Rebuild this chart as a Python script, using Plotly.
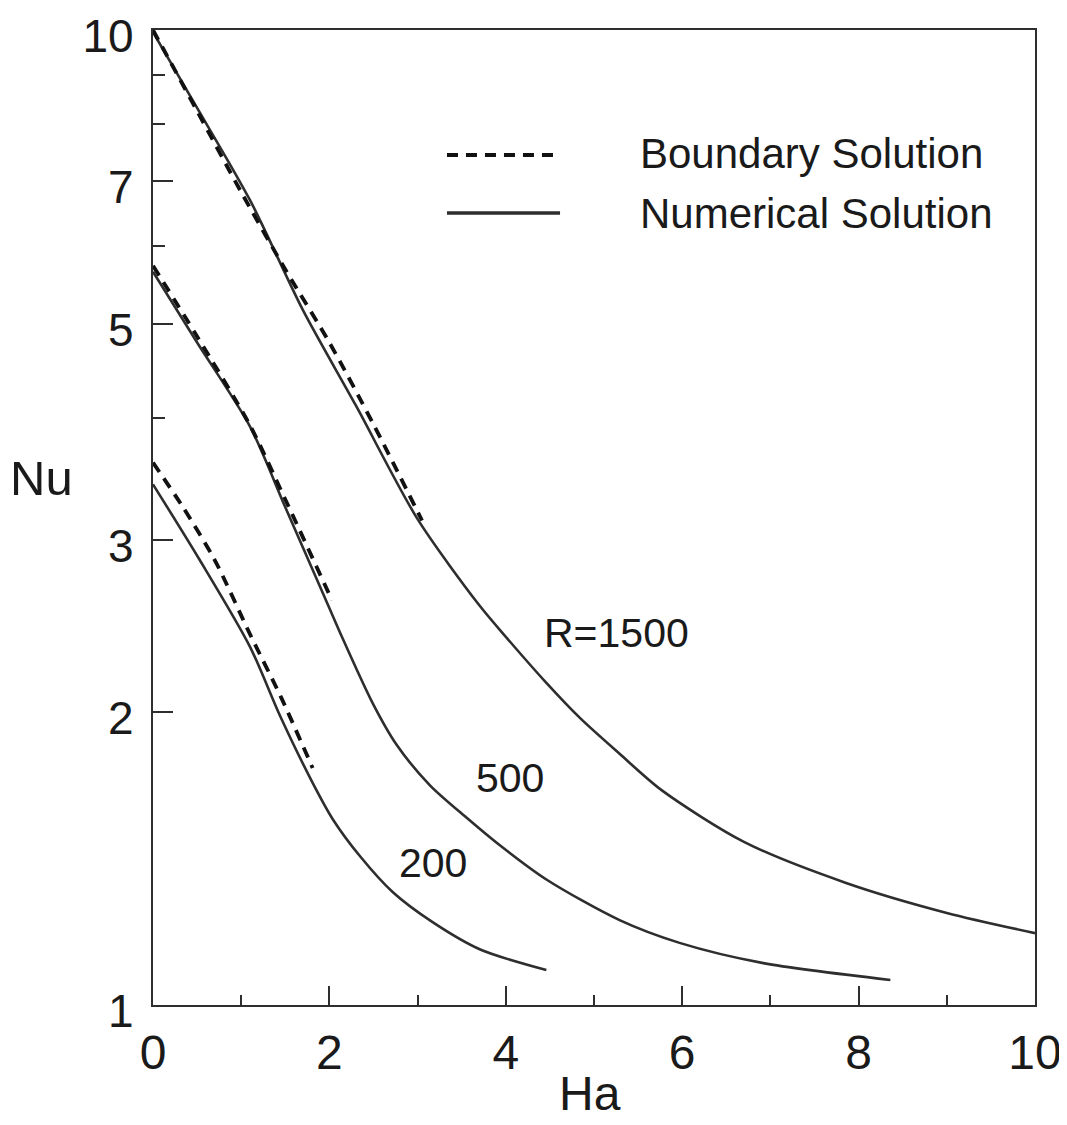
import math
import plotly.graph_objects as go

# ---- data ----
ha_num_1500 = [0.0, 0.5, 1.1, 1.7, 2.3, 3.0, 3.7, 4.01, 4.46, 4.84, 5.29, 5.77, 6.7, 7.85, 9.0, 10.0]
nu_num_1500 = [9.95, 8.32, 6.69, 5.16, 4.12, 3.15, 2.57, 2.38, 2.14, 1.97, 1.81, 1.66, 1.47, 1.335, 1.243, 1.185]

ha_bnd_1500 = [0.0, 0.5, 1.0, 1.5, 2.0, 2.5, 3.05]
nu_bnd_1500 = [10.0, 8.26, 6.82, 5.68, 4.78, 3.94, 3.14]

ha_num_500 = [0.0, 0.5, 1.1, 1.5, 1.93, 2.12, 2.49, 2.76, 3.14, 3.56, 3.9, 4.46, 5.29, 5.97, 6.92, 8.36]
nu_num_500 = [5.65, 4.78, 3.92, 3.24, 2.64, 2.41, 2.04, 1.85, 1.68, 1.555, 1.466, 1.345, 1.222, 1.158, 1.104, 1.061]

ha_bnd_500 = [0.0, 0.5, 1.1, 1.5, 2.03]
nu_bnd_500 = [5.73, 4.85, 3.93, 3.30, 2.60]

ha_num_200 = [0.0, 0.53, 1.1, 1.44, 1.81, 2.04, 2.35, 2.72, 3.17, 3.71, 4.46]
nu_num_200 = [3.42, 2.86, 2.33, 1.98, 1.69, 1.55, 1.42, 1.305, 1.216, 1.14, 1.086]

ha_bnd_200 = [0.0, 0.34, 0.7, 1.1, 1.45, 1.81]
nu_bnd_200 = [3.60, 3.24, 2.86, 2.40, 2.07, 1.75]

curve_labels = ["R=1500", "500", "200"]
label_ha = [5.26, 4.05, 3.17]
label_nu = [2.41, 1.71, 1.40]

x_ticks = [0, 2, 4, 6, 8, 10]
y_ticks = [1, 2, 3, 5, 7, 10]
y_minor = [4, 6, 8, 9]
legend_names = ["Boundary Solution", "Numerical Solution"]

FONT = "Liberation Sans, Arial, Helvetica, sans-serif"
LINE = "#2e2e2e"
TXT = "#1a1a1a"

fig = go.Figure()

num_sets = [(ha_num_1500, nu_num_1500), (ha_num_500, nu_num_500), (ha_num_200, nu_num_200)]
bnd_sets = [(ha_bnd_1500, nu_bnd_1500), (ha_bnd_500, nu_bnd_500), (ha_bnd_200, nu_bnd_200)]

for hx, ny in num_sets:
    fig.add_trace(go.Scatter(x=hx, y=ny, mode="lines", name=legend_names[1],
                             line=dict(color=LINE, width=2.6, shape="spline", smoothing=0.8),
                             showlegend=False))
for hx, ny in bnd_sets:
    fig.add_trace(go.Scatter(x=hx, y=ny, mode="lines", name=legend_names[0],
                             line=dict(color="#111111", width=3.8, dash="11px,8px", shape="spline", smoothing=0.8),
                             showlegend=False))

for t, lx, ly in zip(curve_labels, label_ha, label_nu):
    fig.add_annotation(x=lx, y=math.log10(ly), xref="x", yref="y", text=t, showarrow=False,
                       xanchor="center", yanchor="middle",
                       font=dict(family=FONT, size=41, color=TXT))

# legend (drawn manually to match the long line samples)
fig.add_shape(type="line", xref="paper", yref="paper", x0=0.3333, x1=0.4615, y0=0.8718, y1=0.8718,
              line=dict(color="#111111", width=3.8, dash="11px,8px"))
fig.add_shape(type="line", xref="paper", yref="paper", x0=0.3333, x1=0.4615, y0=0.8123, y1=0.8123,
              line=dict(color=LINE, width=3.4))
fig.add_annotation(x=0.5499, y=0.8738, xref="paper", yref="paper", text=legend_names[0], showarrow=False,
                   xanchor="left", yanchor="middle", font=dict(family=FONT, size=42, color=TXT))
fig.add_annotation(x=0.5499, y=0.8123, xref="paper", yref="paper", text=legend_names[1], showarrow=False,
                   xanchor="left", yanchor="middle", font=dict(family=FONT, size=42, color=TXT))

# axis titles
fig.add_annotation(x=-0.1259, y=0.5405, xref="paper", yref="paper", text="Nu", showarrow=False,
                   xanchor="center", yanchor="middle", font=dict(family=FONT, size=49, color=TXT))
fig.add_annotation(x=0.4955, y=-0.120, xref="paper", yref="paper", text="Ha", showarrow=False,
                   xanchor="center", yanchor="bottom", font=dict(family=FONT, size=48, color=TXT))

fig.update_xaxes(range=[0, 10], tickvals=x_ticks, ticks="inside", ticklen=19, tickwidth=2,
                 tickcolor=LINE, showline=True, linewidth=2.4, linecolor=LINE, mirror=True,
                 showgrid=False, zeroline=False, tickfont=dict(family=FONT, size=48, color=TXT),
                 ticklabelstandoff=4, automargin=False, ticklabeloverflow="allow",
                 minor=dict(dtick=1, ticks="inside", ticklen=10, tickwidth=2, tickcolor=LINE, showgrid=False))
fig.update_yaxes(type="log", range=[0, 1], tickvals=y_ticks, ticktext=[str(v) for v in y_ticks],
                 ticks="inside", ticklen=20, tickwidth=2, tickcolor=LINE, showline=True, linewidth=2.4,
                 linecolor=LINE, mirror=True, showgrid=False, zeroline=False,
                 tickfont=dict(family=FONT, size=46, color=TXT), ticklabelstandoff=8, ticklabelshift=6,
                 automargin=False, ticklabeloverflow="allow",
                 minor=dict(tickvals=y_minor, ticks="inside", ticklen=12, tickwidth=2, tickcolor=LINE, showgrid=False))

# page body has an 8px margin, so the figure is sized to fit inside the window
fig.update_layout(width=1059, height=1117, margin=dict(l=145, r=32, t=22, b=120, autoexpand=False),
                  plot_bgcolor="white", paper_bgcolor="white", showlegend=False)

fig.write_html("out.html")
